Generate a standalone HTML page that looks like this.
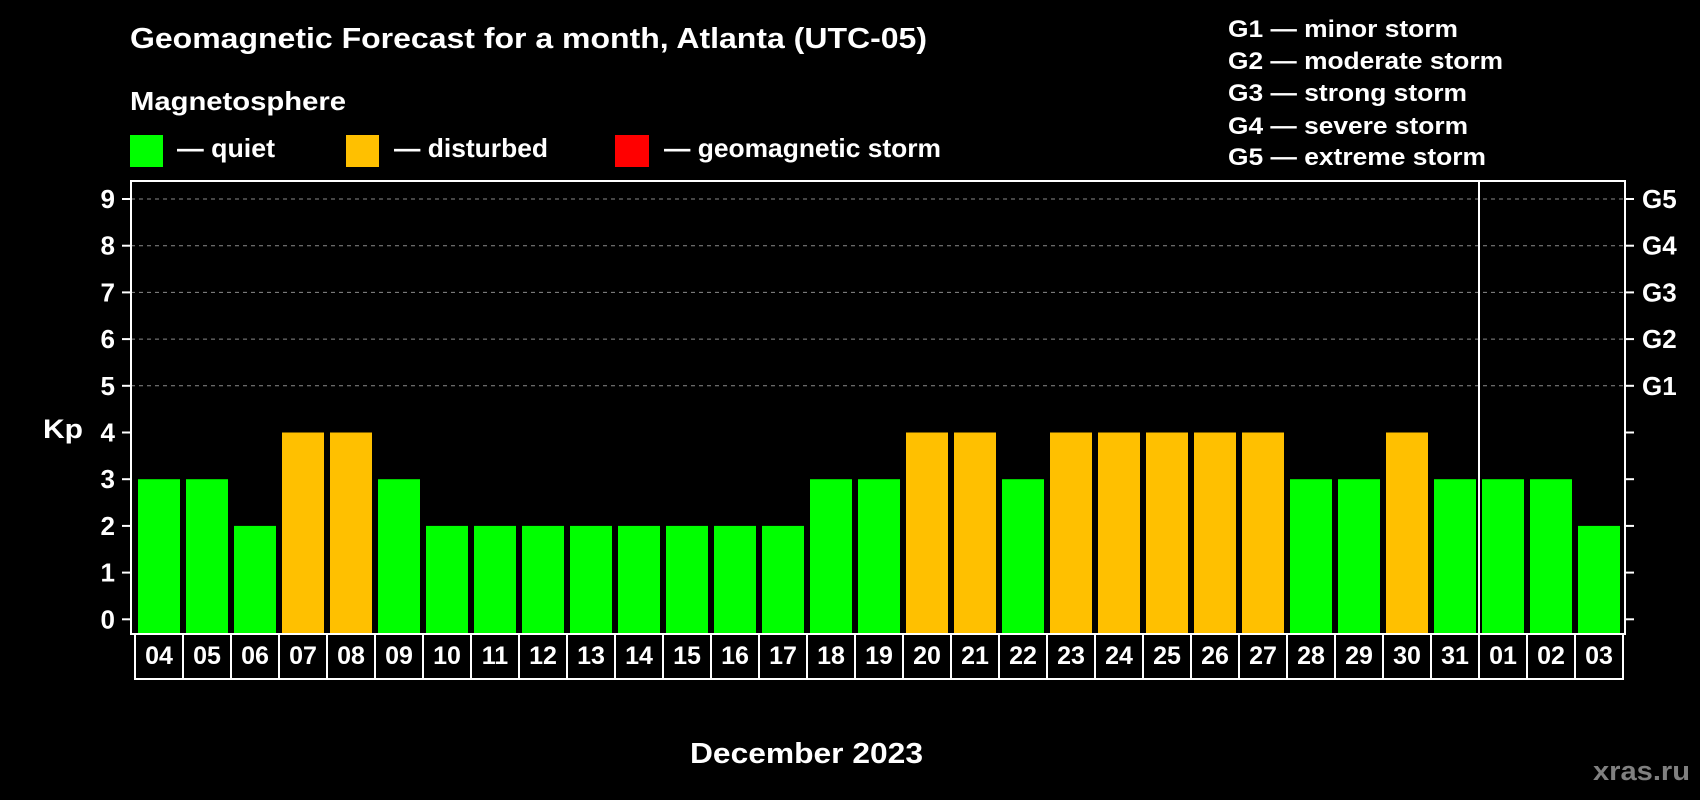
<!DOCTYPE html>
<html><head><meta charset="utf-8"><style>
html,body{margin:0;padding:0;background:#000;width:1700px;height:800px;overflow:hidden}
svg{display:block;font-family:"Liberation Sans",Arial,sans-serif;font-weight:bold}
</style></head><body>
<svg id="chart" width="1700" height="800" viewBox="0 0 1700 800">
<text x="130" y="48" font-size="29" fill="#fff" textLength="797" lengthAdjust="spacingAndGlyphs">Geomagnetic Forecast for a month, Atlanta (UTC-05)</text>
<text x="130" y="110" font-size="26" fill="#fff" textLength="216" lengthAdjust="spacingAndGlyphs">Magnetosphere</text>
<g><rect x="130" y="135" width="33" height="32" fill="#00ff00"/><text x="177" y="157" font-size="26" fill="#fff" textLength="98" lengthAdjust="spacingAndGlyphs">— quiet</text></g>
<g><rect x="346" y="135" width="33" height="32" fill="#ffc000"/><text x="394" y="157" font-size="26" fill="#fff" textLength="154" lengthAdjust="spacingAndGlyphs">— disturbed</text></g>
<g><rect x="615" y="135" width="34" height="32" fill="#ff0000"/><text x="664" y="157" font-size="26" fill="#fff" textLength="277" lengthAdjust="spacingAndGlyphs">— geomagnetic storm</text></g>
<g font-size="24" fill="#fff">
<text x="1228" y="37" textLength="230" lengthAdjust="spacingAndGlyphs">G1 — minor storm</text>
<text x="1228" y="69" textLength="275" lengthAdjust="spacingAndGlyphs">G2 — moderate storm</text>
<text x="1228" y="101" textLength="239" lengthAdjust="spacingAndGlyphs">G3 — strong storm</text>
<text x="1228" y="134" textLength="240" lengthAdjust="spacingAndGlyphs">G4 — severe storm</text>
<text x="1228" y="165" textLength="258" lengthAdjust="spacingAndGlyphs">G5 — extreme storm</text>
</g>
<text x="43" y="438" font-size="27" fill="#fff" textLength="40" lengthAdjust="spacingAndGlyphs">Kp</text>
<text x="690" y="763" font-size="29" fill="#fff" textLength="233" lengthAdjust="spacingAndGlyphs">December 2023</text>
<text x="1593" y="780" font-size="27" fill="#808080" textLength="97" lengthAdjust="spacingAndGlyphs">xras.ru</text>
<g id="plot"></g>
</svg>
<script>
const categories = ["04","05","06","07","08","09","10","11","12","13","14","15","16","17","18","19","20","21","22","23","24","25","26","27","28","29","30","31","01","02","03"];
const kpValues = [3,3,2,4,4,3,2,2,2,2,2,2,2,2,3,3,4,4,3,4,4,4,4,4,3,3,4,3,3,3,2];
const yTicks = [0,1,2,3,4,5,6,7,8,9];
const gLabels = ["G1","G2","G3","G4","G5"];
const monthBreakIndex = 28;

(function(){
const NS = "http://www.w3.org/2000/svg";
const plot = document.getElementById("plot");
const pLeft = 131, pRight = 1625, pTop = 181, pBottom = 634;
const y0 = 619.3, unit = 46.7;
const x0 = 135, pitch = 48;
function yScale(v){ return y0 - v*unit; }
function xScale(i){ return x0 + i*pitch; }
function mk(tag, attrs){ const e = document.createElementNS(NS, tag); for (const k in attrs) e.setAttribute(k, attrs[k]); plot.appendChild(e); return e; }

for (let v = 5; v <= 9; v++) {
  const g = mk("line", {x1:pLeft, x2:pRight, y1:yScale(v), y2:yScale(v), stroke:"#8a8a8a", "stroke-width":1, "stroke-dasharray":"4 4"});
  
  
}
kpValues.forEach((v, i) => {
  const yt = yScale(v);
  const b = mk("rect", {x:xScale(i)+3, y:yt, width:42, height:pBottom - yt, fill: v >= 5 ? "#ff0000" : (v >= 4 ? "#ffc000" : "#00ff00")});
  
  
});
const fr = mk("rect", {x:pLeft, y:pTop, width:pRight-pLeft, height:pBottom-pTop, fill:"none", stroke:"#fff", "stroke-width":2});


const sx = xScale(monthBreakIndex);
const sep = mk("line", {x1:sx, x2:sx, y1:pTop, y2:pBottom, stroke:"#fff", "stroke-width":2});


yTicks.forEach(v => {
  const y = yScale(v);
  const t1 = mk("line", {x1:122, x2:pLeft, y1:y, y2:y, stroke:"#fff", "stroke-width":2});
  
  
  const t2 = mk("line", {x1:pRight, x2:1634, y1:y, y2:y, stroke:"#fff", "stroke-width":2});
  
  
  const lb = mk("text", {x:115, y:y+9, "font-size":26, fill:"#fff", "text-anchor":"end"});
  lb.textContent = v;
  
  
});
gLabels.forEach((g, i) => {
  const lb = mk("text", {x:1642, y:yScale(5+i)+9, "font-size":26, fill:"#fff"});
  lb.textContent = g;
  
  
});
categories.forEach((c, i) => {
  const bx = mk("rect", {x:xScale(i), y:pBottom, width:pitch, height:45, fill:"none", stroke:"#fff", "stroke-width":2});
  
  
  const t = mk("text", {x:xScale(i)+pitch/2, y:664, "font-size":25, fill:"#fff", "text-anchor":"middle"});
  t.textContent = c;
  
  
});
})();
</script>
</body></html>
